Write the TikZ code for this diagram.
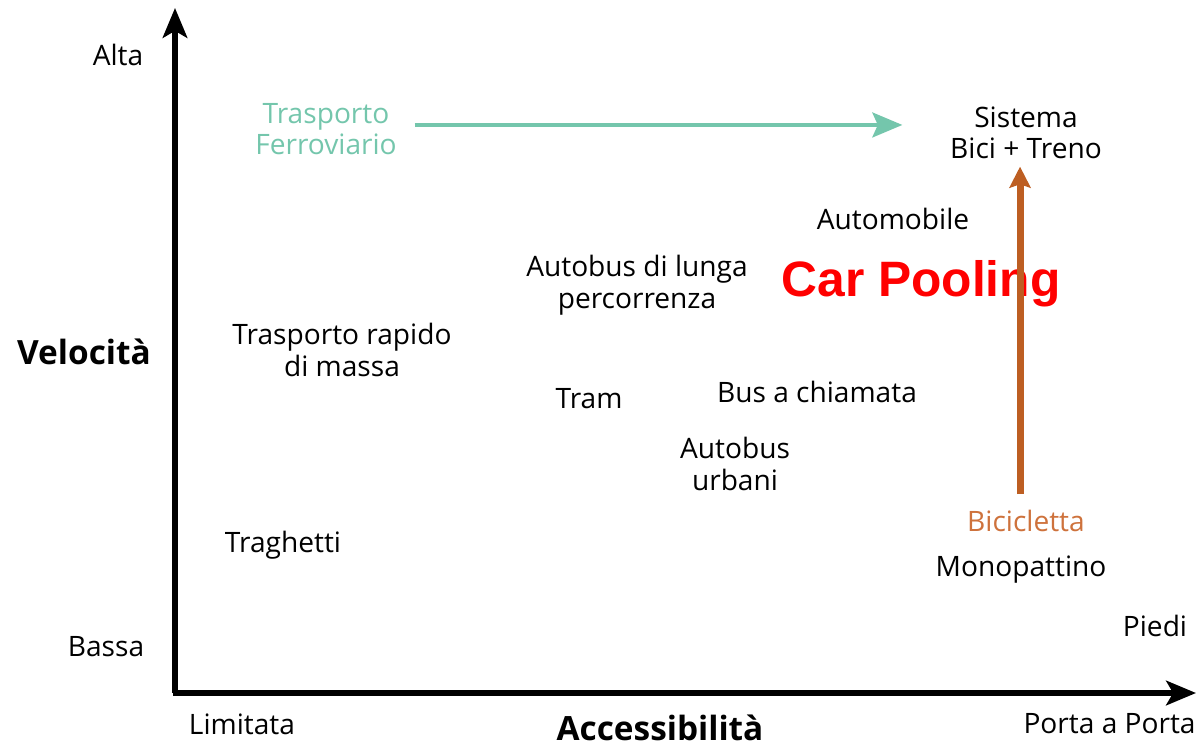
\documentclass[tikz,border=0pt]{standalone}
\usepackage{fontspec}
\setmainfont{Open Sans}
\newfontfamily\poolfont{Liberation Sans}
\usetikzlibrary{arrows.meta}
\definecolor{railteal}{RGB}{116,198,172}
\definecolor{bikebrown}{RGB}{189,94,34}
\definecolor{bikeorange}{RGB}{206,114,60}
\tikzstyle{mode} =
        [
                font = \fontsize{16}{18}\selectfont,
                align = center,
                inner sep = 0pt
        ]
\tikzstyle{axistitle} =
        [
                font = \fontsize{19}{22}\selectfont\bfseries,
                inner sep = 0pt
        ]
\tikzstyle{axis} =
        [
                draw,
                line width = 2.9pt,
                -{Stealth[length = 17pt, width = 14pt, inset = 4pt]}
        ]
\tikzstyle{line} =
        [
                draw,
                line width = 2.8pt,
                -{Stealth[length = 17pt, width = 14pt, inset = 3pt]}
        ]

\begin{document}
\begin{tikzpicture}[x = 0.02cm, y = -0.02cm]
        \useasboundingbox (0,0) rectangle (1196,747);
        \coordinate (origin) at (175,693);
        \coordinate (ytop) at (175,8);
        \coordinate (xend) at (1196,693);

        \node [mode] (alta) at (118,55) {Alta};
        \node [mode] (bassa) at (106,647) {Bassa};
        \node [axistitle] (vel) at (84,352) {Velocità};
        \node [mode] (limitata) at (242,724) {Limitata};
        \node [axistitle] (acc) at (660,728) {Accessibilità};
        \node [mode, anchor = east] (porta) at (1196,724) {Porta a Porta};

        \node [mode, text = railteal] (ferro) at (326,129) {Trasporto\\Ferroviario};
        \node [mode] (sistema) at (1026,133) {Sistema\\Bici + Treno};
        \node [mode] (auto) at (893,219) {Automobile};
        \node [mode] (lunga) at (637,285) {Autobus di lunga\\percorrenza};
        \node [mode] (rapido) at (342,350) {Trasporto rapido\\di massa};
        \node [mode] (tram) at (589,399) {Tram};
        \node [mode] (chiamata) at (817,392) {Bus a chiamata};
        \node [mode] (urbani) at (735,464) {Autobus\\urbani};
        \node [mode] (traghetti) at (283,545) {Traghetti};
        \node [mode, text = bikeorange] (bici) at (1026,521) {Bicicletta};
        \node [mode] (mono) at (1021,570) {Monopattino};
        \node [mode] (piedi) at (1155,626) {Piedi};
        \node [inner sep = 0pt, text = red, font = \fontsize{28.3}{32}\selectfont\poolfont\bfseries] (pool) at (921,284) {Car Pooling};

        \path [axis] (175,693) -- (ytop);
        \path [axis] (173,693) -- (xend);
        \path [line, railteal, shorten <= 10pt, shorten >= 27pt] ([yshift = 2.3pt]ferro.east) -- ([yshift = 2.3pt]ferro.east -| sistema.west);
        \path [line, bikebrown, line width = 4pt, -{Stealth[length = 12pt, width = 12pt, inset = 2pt]}, shorten <= 9pt, shorten >= 4pt] ([xshift = -3.4pt]bici.north) -- ([xshift = -3.4pt]bici.north |- sistema.south);
\end{tikzpicture}
\end{document}
